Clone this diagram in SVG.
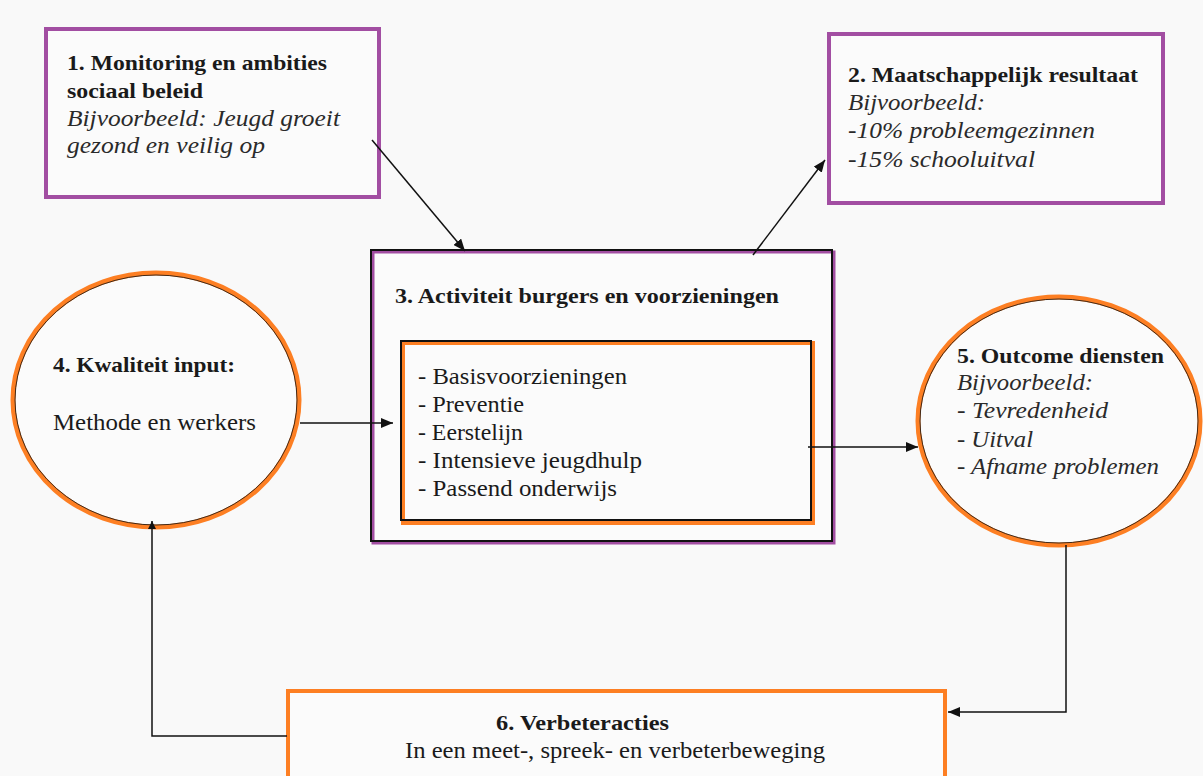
<svg xmlns="http://www.w3.org/2000/svg" width="1203" height="776" viewBox="0 0 1203 776">
<defs>
<style>
.bg{fill:#f9f9f9}
.purple{fill:none;stroke:#a24ea2;stroke-width:4}
.orange{fill:none;stroke:#fd7f23;stroke-width:4}
.blk{fill:none;stroke:#111;stroke-width:2}
.fillw{fill:#fbfbfb}
.t{font-family:"Liberation Serif","Times New Roman",serif;fill:#1a1a1a}
.b{font-weight:bold;font-size:22px}
.r{font-size:23px}
.i{font-style:italic;font-size:23px;fill:#2a2a2a}
.c{fill:none;stroke:#111;stroke-width:1.5}
</style>
<marker id="arr" viewBox="0 0 12 10" refX="12" refY="5" markerWidth="12" markerHeight="10" markerUnits="userSpaceOnUse" orient="auto">
<path d="M0,0 L12,5 L0,10 z" fill="#111"/>
</marker>
<marker id="arrs" viewBox="0 0 8 8" refX="8" refY="4" markerWidth="8" markerHeight="8" markerUnits="userSpaceOnUse" orient="auto">
<path d="M0,0 L8,4 L0,8 z" fill="#111"/>
</marker>
</defs>
<rect class="bg" x="0" y="0" width="1203" height="776"/>

<g id="node1">
<rect class="fillw" x="46" y="29" width="333" height="168"/>
<rect class="purple" x="46" y="29" width="333" height="168"/>
<text class="t b" x="67" y="70" textLength="260" lengthAdjust="spacingAndGlyphs">1. Monitoring en ambities</text>
<text class="t b" x="67" y="98" textLength="136" lengthAdjust="spacingAndGlyphs">sociaal beleid</text>
<text class="t i" x="67" y="126" textLength="273" lengthAdjust="spacingAndGlyphs">Bijvoorbeeld: Jeugd groeit</text>
<text class="t i" x="67" y="153" textLength="198" lengthAdjust="spacingAndGlyphs">gezond en veilig op</text>
</g>

<g id="node2">
<rect class="fillw" x="829" y="34" width="334" height="169"/>
<rect class="purple" x="829" y="34" width="334" height="169"/>
<text class="t b" x="848" y="82" textLength="290" lengthAdjust="spacingAndGlyphs">2. Maatschappelijk resultaat</text>
<text class="t i" x="848" y="110" textLength="137" lengthAdjust="spacingAndGlyphs">Bijvoorbeeld:</text>
<text class="t i" x="848" y="138" textLength="247" lengthAdjust="spacingAndGlyphs">-10% probleemgezinnen</text>
<text class="t i" x="848" y="167" textLength="187" lengthAdjust="spacingAndGlyphs">-15% schooluitval</text>
</g>

<g id="node3">
<rect class="fillw" x="371" y="250" width="462" height="292"/>
<rect x="373" y="252" width="461" height="291" fill="none" stroke="#a24ea2" stroke-width="3"/>
<rect class="blk" x="371" y="250" width="461" height="291"/>
<text class="t b" x="395" y="303" textLength="384" lengthAdjust="spacingAndGlyphs">3. Activiteit burgers en voorzieningen</text>
<rect x="403" y="343" width="410" height="180" fill="none" stroke="#fd7f23" stroke-width="4"/>
<rect class="blk" x="401" y="341" width="410" height="179"/>
<text class="t r" x="418" y="384" textLength="209" lengthAdjust="spacingAndGlyphs">- Basisvoorzieningen</text>
<text class="t r" x="418" y="412" textLength="106" lengthAdjust="spacingAndGlyphs">- Preventie</text>
<text class="t r" x="418" y="440" textLength="105" lengthAdjust="spacingAndGlyphs">- Eerstelijn</text>
<text class="t r" x="418" y="468" textLength="224" lengthAdjust="spacingAndGlyphs">- Intensieve jeugdhulp</text>
<text class="t r" x="418" y="496" textLength="199" lengthAdjust="spacingAndGlyphs">- Passend onderwijs</text>
</g>

<g id="node4">
<ellipse cx="156" cy="400" rx="143" ry="127" fill="#fbfbfb"/>
<ellipse cx="156" cy="400" rx="143" ry="127" fill="none" stroke="#fd7f23" stroke-width="5"/>
<ellipse cx="156" cy="400" rx="141" ry="125" fill="none" stroke="#111" stroke-width="0.8"/>
<text class="t b" x="53" y="372" textLength="182" lengthAdjust="spacingAndGlyphs">4. Kwaliteit input:</text>
<text class="t r" x="53" y="430" textLength="203" lengthAdjust="spacingAndGlyphs">Methode en werkers</text>
</g>

<g id="node5">
<ellipse cx="1059" cy="421" rx="141" ry="124" fill="#fbfbfb"/>
<ellipse cx="1059" cy="421" rx="141" ry="124" fill="none" stroke="#fd7f23" stroke-width="5"/>
<ellipse cx="1059" cy="421" rx="139" ry="122" fill="none" stroke="#111" stroke-width="0.8"/>
<text class="t b" x="957" y="363" textLength="207" lengthAdjust="spacingAndGlyphs">5. Outcome diensten</text>
<text class="t i" x="957" y="390" textLength="136" lengthAdjust="spacingAndGlyphs">Bijvoorbeeld:</text>
<text class="t i" x="957" y="418" textLength="151" lengthAdjust="spacingAndGlyphs">- Tevredenheid</text>
<text class="t i" x="957" y="447" textLength="76" lengthAdjust="spacingAndGlyphs">- Uitval</text>
<text class="t i" x="957" y="474" textLength="202" lengthAdjust="spacingAndGlyphs">- Afname problemen</text>
</g>

<g id="node6">
<rect class="fillw" x="288" y="691" width="657" height="90"/>
<rect class="orange" x="288" y="691" width="657" height="90"/>
<text class="t b" x="496" y="730" textLength="173" lengthAdjust="spacingAndGlyphs">6. Verbeteracties</text>
<text class="t r" x="405" y="758" textLength="420" lengthAdjust="spacingAndGlyphs">In een meet-, spreek- en verbeterbeweging</text>
</g>

<g id="connectors">
<line class="c" x1="372" y1="140" x2="465" y2="251" marker-end="url(#arr)"/>
<line class="c" x1="753" y1="255" x2="825" y2="160" marker-end="url(#arr)"/>
<line class="c" x1="300" y1="423" x2="393" y2="423" marker-end="url(#arr)"/>
<line class="c" x1="808" y1="447" x2="918" y2="447" marker-end="url(#arr)"/>
<polyline class="c" points="1066,545 1066,712 948,712" marker-end="url(#arr)"/>
<polyline class="c" points="287,736 152,736 152,521" marker-end="url(#arrs)"/>
</g>
</svg>
